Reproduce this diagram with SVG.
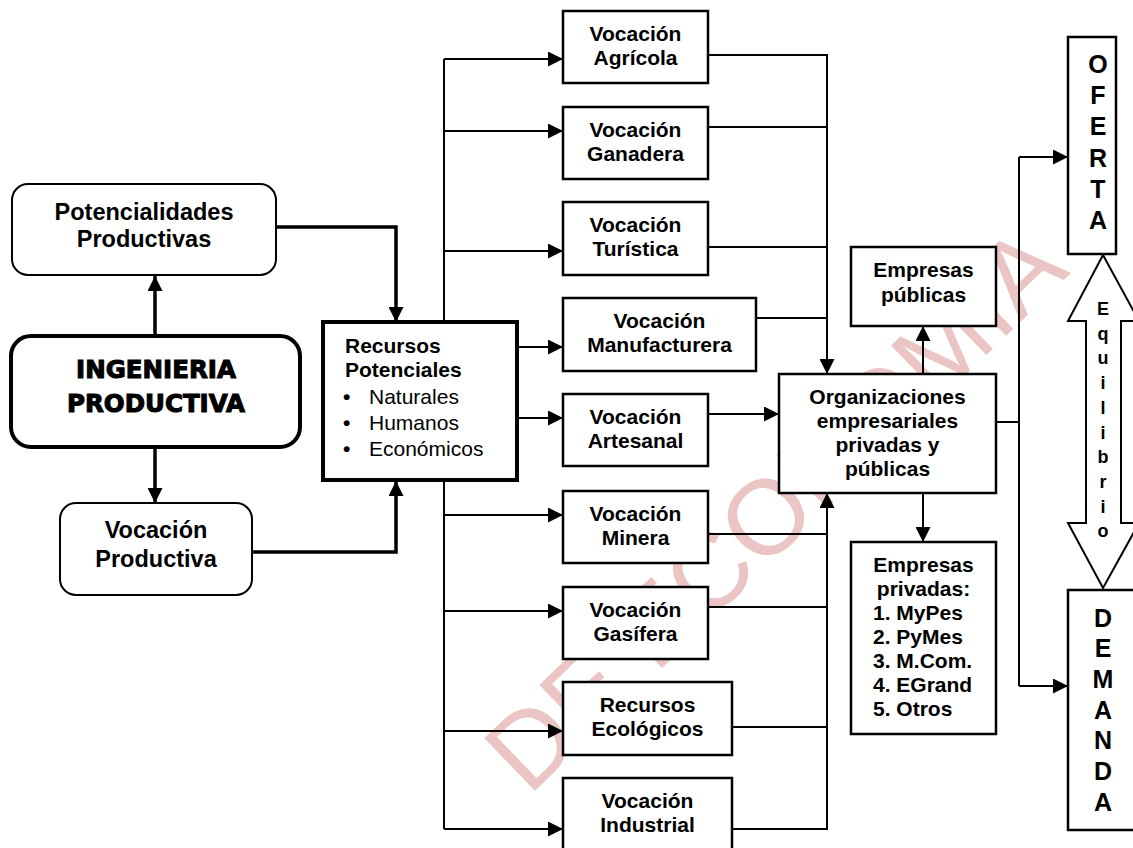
<svg xmlns="http://www.w3.org/2000/svg" width="1133" height="848" viewBox="0 0 1133 848">
<defs>
<style>
text{font-family:"Liberation Sans",Arial,sans-serif;fill:#000}
.b{font-weight:bold;font-size:21px;text-anchor:middle}
.bl{font-weight:bold;font-size:23.5px;text-anchor:middle}
.r{font-size:21px}
.big{font-family:"DejaVu Sans","Liberation Sans",sans-serif;font-weight:bold;font-size:24.5px;text-anchor:middle;stroke:#000;stroke-width:1.1}
.v{font-weight:bold;font-size:25px;text-anchor:middle}
.e{font-weight:bold;font-size:18px;text-anchor:middle}
.box{fill:#fff;stroke:#000;stroke-width:2.5}
.thin{fill:none;stroke:#000;stroke-width:2}
.thick{fill:none;stroke:#000;stroke-width:3.5}
.wm{font-size:106px;fill:#ebc4c4}
</style>
<marker id="ah" markerUnits="userSpaceOnUse" markerWidth="15" markerHeight="15" refX="15" refY="7.5" orient="auto">
<path d="M0,0 L15,7.5 L0,15 z" fill="#000"/>
</marker>
</defs>
<rect width="1133" height="848" fill="#fff"/>

<g id="watermark">
<text class="wm" text-anchor="end" x="1071" y="273" transform="rotate(-44 1071 273)">DE ECONOMIA</text>
</g>

<g id="connectors">
<path class="thick" d="M155,335 V276" marker-end="url(#ah)"/>
<path class="thick" d="M155,447 V503" marker-end="url(#ah)"/>
<path class="thick" d="M276,227 H396 V322" marker-end="url(#ah)"/>
<path class="thick" d="M252,552 H396 V481" marker-end="url(#ah)"/>
<path class="thin" d="M444,59 V829"/>
<path class="thin" d="M444,59 H563" marker-end="url(#ah)"/>
<path class="thin" d="M444,131 H563" marker-end="url(#ah)"/>
<path class="thin" d="M444,251 H563" marker-end="url(#ah)"/>
<path class="thin" d="M517,347 H563" marker-end="url(#ah)"/>
<path class="thin" d="M517,418 H563" marker-end="url(#ah)"/>
<path class="thin" d="M444,515 H563" marker-end="url(#ah)"/>
<path class="thin" d="M444,611 H563" marker-end="url(#ah)"/>
<path class="thin" d="M444,731 H563" marker-end="url(#ah)"/>
<path class="thin" d="M444,829 H563" marker-end="url(#ah)"/>
<path class="thin" d="M708,55 H827 V374" marker-end="url(#ah)"/>
<path class="thin" d="M708,127 H827"/>
<path class="thin" d="M708,247 H827"/>
<path class="thin" d="M756,318 H827"/>
<path class="thin" d="M708,414 H779" marker-end="url(#ah)"/>
<path class="thin" d="M732,829 H827 V493" marker-end="url(#ah)"/>
<path class="thin" d="M708,534 H827"/>
<path class="thin" d="M708,607 H827"/>
<path class="thin" d="M732,727 H827"/>
<path class="thin" d="M923,374 V326" marker-end="url(#ah)"/>
<path class="thin" d="M923,493 V542" marker-end="url(#ah)"/>
<path class="thin" d="M996,422 H1019"/>
<path class="thin" d="M1019,157 V686"/>
<path class="thin" d="M1019,157 H1068" marker-end="url(#ah)"/>
<path class="thin" d="M1019,686 H1068" marker-end="url(#ah)"/>
</g>

<g id="potencialidades">
<rect x="12" y="184" width="264" height="91" rx="16" fill="#fff" stroke="#000" stroke-width="2"/>
<text class="bl" x="144" y="220">Potencialidades</text>
<text class="bl" x="144" y="247">Productivas</text>
</g>
<g id="ingenieria">
<rect x="11" y="336" width="289" height="111" rx="20" fill="#fff" stroke="#000" stroke-width="4"/>
<text class="big" x="156" y="378">INGENIERIA</text>
<text class="big" x="156" y="412">PRODUCTIVA</text>
</g>
<g id="vocacion-productiva">
<rect x="60" y="503" width="192" height="92" rx="16" fill="#fff" stroke="#000" stroke-width="2"/>
<text class="bl" x="156" y="538">Vocación</text>
<text class="bl" x="156" y="567">Productiva</text>
</g>
<g id="recursos">
<rect x="323" y="322" width="194" height="158" fill="#fff" stroke="#000" stroke-width="4"/>
<text class="b" x="345" y="353" style="text-anchor:start">Recursos</text>
<text class="b" x="345" y="377" style="text-anchor:start">Potenciales</text>
<text class="r" x="343" y="404" style="font-weight:bold">•</text>
<text class="r" x="369" y="404">Naturales</text>
<text class="r" x="343" y="430" style="font-weight:bold">•</text>
<text class="r" x="369" y="430">Humanos</text>
<text class="r" x="343" y="456" style="font-weight:bold">•</text>
<text class="r" x="369" y="456">Económicos</text>
</g>

<g id="agricola"><rect class="box" x="563" y="11" width="145" height="72"/><text class="b" x="635.5" y="41">Vocación</text><text class="b" x="635.5" y="65">Agrícola</text></g>
<g id="ganadera"><rect class="box" x="563" y="107" width="145" height="72"/><text class="b" x="635.5" y="137">Vocación</text><text class="b" x="635.5" y="161">Ganadera</text></g>
<g id="turistica"><rect class="box" x="563" y="202" width="145" height="73"/><text class="b" x="635.5" y="232">Vocación</text><text class="b" x="635.5" y="256">Turística</text></g>
<g id="manufacturera"><rect class="box" x="563" y="298" width="193" height="73"/><text class="b" x="659.5" y="328">Vocación</text><text class="b" x="659.5" y="352">Manufacturera</text></g>
<g id="artesanal"><rect class="box" x="563" y="394" width="145" height="72"/><text class="b" x="635.5" y="424">Vocación</text><text class="b" x="635.5" y="448">Artesanal</text></g>
<g id="minera"><rect class="box" x="563" y="491" width="145" height="72"/><text class="b" x="635.5" y="521">Vocación</text><text class="b" x="635.5" y="545">Minera</text></g>
<g id="gasifera"><rect class="box" x="563" y="587" width="145" height="72"/><text class="b" x="635.5" y="617">Vocación</text><text class="b" x="635.5" y="641">Gasífera</text></g>
<g id="ecologicos"><rect class="box" x="563" y="682" width="169" height="73"/><text class="b" x="647.5" y="712">Recursos</text><text class="b" x="647.5" y="736">Ecológicos</text></g>
<g id="industrial"><rect class="box" x="563" y="778" width="169" height="74"/><text class="b" x="647.5" y="808">Vocación</text><text class="b" x="647.5" y="832">Industrial</text></g>

<g id="organizaciones">
<rect class="box" x="779" y="374" width="217" height="119"/>
<text class="b" x="887.5" y="404">Organizaciones</text>
<text class="b" x="887.5" y="428">empresariales</text>
<text class="b" x="887.5" y="452">privadas y</text>
<text class="b" x="887.5" y="476">públicas</text>
</g>
<g id="empresas-publicas">
<rect class="box" x="851" y="247" width="145" height="79"/>
<text class="b" x="923.5" y="277">Empresas</text>
<text class="b" x="923.5" y="302">públicas</text>
</g>
<g id="empresas-privadas">
<rect class="box" x="851" y="542" width="145" height="192"/>
<text class="b" x="923.5" y="572">Empresas</text>
<text class="b" x="923.5" y="596">privadas:</text>
<text class="b" x="873" y="620" style="text-anchor:start">1. MyPes</text>
<text class="b" x="873" y="644" style="text-anchor:start">2. PyMes</text>
<text class="b" x="873" y="668" style="text-anchor:start">3. M.Com.</text>
<text class="b" x="873" y="692" style="text-anchor:start">4. EGrand</text>
<text class="b" x="873" y="716" style="text-anchor:start">5. Otros</text>
</g>

<g id="oferta">
<rect class="box" x="1068" y="37" width="48" height="217" stroke-width="2"/>
<text class="v" x="1098" y="73">O</text>
<text class="v" x="1098" y="104">F</text>
<text class="v" x="1098" y="135">E</text>
<text class="v" x="1098" y="167">R</text>
<text class="v" x="1098" y="198">T</text>
<text class="v" x="1098" y="229">A</text>
</g>
<g id="equilibrio">
<polygon points="1103,255 1139,321 1121,321 1121,523 1139,523 1103,588 1068,523 1086,523 1086,321 1068,321" fill="#fff" stroke="#000" stroke-width="2"/>
<text class="e" x="1103" y="315">E</text>
<text class="e" x="1103" y="339.7">q</text>
<text class="e" x="1103" y="364.4">u</text>
<text class="e" x="1103" y="389.1">i</text>
<text class="e" x="1103" y="413.8">l</text>
<text class="e" x="1103" y="438.5">i</text>
<text class="e" x="1103" y="463.2">b</text>
<text class="e" x="1103" y="487.9">r</text>
<text class="e" x="1103" y="512.6">i</text>
<text class="e" x="1103" y="537.3">o</text>
</g>
<g id="demanda">
<rect class="box" x="1068" y="590" width="80" height="240" stroke-width="2"/>
<text class="v" x="1103" y="626.5">D</text>
<text class="v" x="1103" y="657.2">E</text>
<text class="v" x="1103" y="687.9">M</text>
<text class="v" x="1103" y="718.6">A</text>
<text class="v" x="1103" y="749.3">N</text>
<text class="v" x="1103" y="780">D</text>
<text class="v" x="1103" y="810.7">A</text>
</g>
</svg>
